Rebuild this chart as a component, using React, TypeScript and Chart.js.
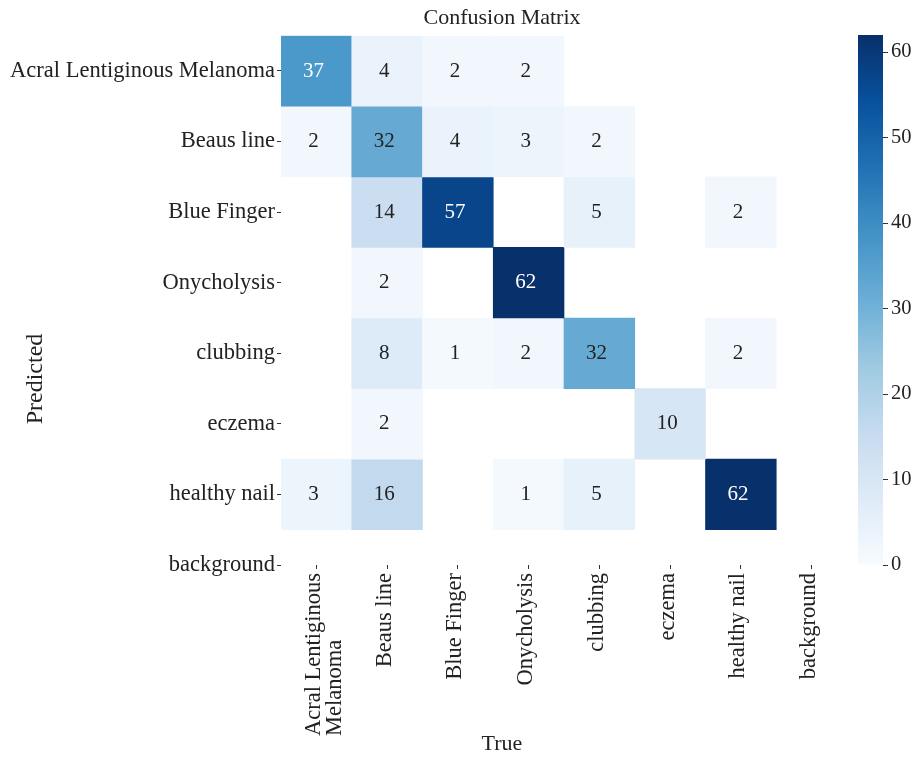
import React, { useEffect, useRef } from "react";
import { Chart, registerables } from "chart.js";

Chart.register(...registerables);

// Class names (rows = predicted, columns = true)
const ROW_LABELS = [
  "Acral Lentiginous Melanoma",
  "Beaus line",
  "Blue Finger",
  "Onycholysis",
  "clubbing",
  "eczema",
  "healthy nail",
  "background",
];
const COL_LABELS = [
  "Acral Lentiginous\nMelanoma",
  "Beaus line",
  "Blue Finger",
  "Onycholysis",
  "clubbing",
  "eczema",
  "healthy nail",
  "background",
];

// Counts per predicted row (0 = empty cell)
const ROW_ACRAL = [37, 4, 2, 2, 0, 0, 0, 0];
const ROW_BEAUS = [2, 32, 4, 3, 2, 0, 0, 0];
const ROW_BLUE = [0, 14, 57, 0, 5, 0, 2, 0];
const ROW_ONYCHO = [0, 2, 0, 62, 0, 0, 0, 0];
const ROW_CLUBBING = [0, 8, 1, 2, 32, 0, 2, 0];
const ROW_ECZEMA = [0, 2, 0, 0, 0, 10, 0, 0];
const ROW_HEALTHY = [3, 16, 0, 1, 5, 0, 62, 0];
const ROW_BACKGROUND = [0, 0, 0, 0, 0, 0, 0, 0];
const MATRIX = [ROW_ACRAL, ROW_BEAUS, ROW_BLUE, ROW_ONYCHO, ROW_CLUBBING, ROW_ECZEMA, ROW_HEALTHY, ROW_BACKGROUND];

// Colour scale range and colour-bar ticks
const COLOR_MIN = 0;
const COLOR_MAX = 62;
const CBAR_TICKS = [0, 10, 20, 30, 40, 50, 60];

const BLUES = ["#f7fbff", "#deebf7", "#c6dbef", "#9ecae1", "#6baed6", "#4292c6", "#2171b5", "#08519c", "#08306b"];

const FONT = "'Liberation Serif', 'Times New Roman', serif";
const TEXT_DARK = "#222222";
const LABEL_SIZE = 22.5;

function hexToRgb(h: string) {
  const n = parseInt(h.slice(1), 16);
  return [(n >> 16) & 255, (n >> 8) & 255, n & 255];
}

function blues(t: number) {
  const c = Math.max(0, Math.min(1, t)) * (BLUES.length - 1);
  const i = Math.min(Math.floor(c), BLUES.length - 2);
  const f = c - i;
  const a = hexToRgb(BLUES[i]);
  const b = hexToRgb(BLUES[i + 1]);
  const m = a.map((v, k) => Math.round(v + (b[k] - v) * f));
  return `rgb(${m[0]},${m[1]},${m[2]})`;
}

const norm = (v: number) => (v - COLOR_MIN) / (COLOR_MAX - COLOR_MIN);

// Value annotations on the cells
const cellLabels = {
  id: "cellLabels",
  afterDatasetsDraw(chart: any) {
    const ctx = chart.ctx;
    ctx.save();
    ctx.font = `21px ${FONT}`;
    ctx.textAlign = "center";
    ctx.textBaseline = "middle";
    chart.data.datasets.forEach((_: any, r: number) => {
      const meta = chart.getDatasetMeta(r);
      meta.data.forEach((el: any, c: number) => {
        const v = MATRIX[r][c];
        if (!v) return;
        const p = el.getCenterPoint();
        ctx.fillStyle = norm(v) > 0.55 ? "#ffffff" : TEXT_DARK;
        ctx.fillText(String(v), p.x - 3, p.y);
      });
    });
    ctx.restore();
  },
};

// Rotated column labels under the matrix, plus the captions
const axisText = {
  id: "axisText",
  afterDraw(chart: any) {
    const ctx = chart.ctx;
    const xs = chart.scales.x;
    const area = chart.chartArea;
    ctx.save();
    ctx.fillStyle = TEXT_DARK;
    ctx.font = `${LABEL_SIZE}px ${FONT}`;
    ctx.textBaseline = "middle";
    const top = area.bottom + 8;
    COL_LABELS.forEach((label, i) => {
      const px = xs.getPixelForTick(i);
      const lines = label.split("\n");
      const maxW = Math.max(...lines.map((l) => ctx.measureText(l).width));
      ctx.save();
      ctx.translate(px - 2.5, top);
      ctx.rotate(-Math.PI / 2);
      ctx.textAlign = "left";
      lines.forEach((l, k) => ctx.fillText(l, -maxW, k * 21));
      ctx.restore();
    });

    ctx.textAlign = "center";
    ctx.font = `22px ${FONT}`;
    ctx.fillText("Confusion Matrix", 502, 18);
    ctx.fillText("True", 502, 744);

    ctx.save();
    ctx.font = `24px ${FONT}`;
    ctx.translate(36, 379);
    ctx.rotate(-Math.PI / 2);
    ctx.fillText("Predicted", 0, 0);
    ctx.restore();
    ctx.restore();
  },
};

function MatrixChart() {
  const ref = useRef<HTMLCanvasElement>(null);
  useEffect(() => {
    if (!ref.current) return;
    const datasets = MATRIX.map((row, r) => ({
      label: ROW_LABELS[r],
      data: row.map((v) => (v > 0 ? [r, r + 1] : null)),
      backgroundColor: row.map((v) => blues(norm(v))),
      borderWidth: 0,
      barPercentage: 1,
      categoryPercentage: 1,
      grouped: false,
    }));
    const chart = new Chart(ref.current, {
      type: "bar",
      data: { labels: COL_LABELS, datasets: datasets as any },
      options: {
        responsive: false,
        animation: false,
        layout: { padding: { top: 35.7, right: 72, bottom: 0, left: 0 } },
        plugins: { legend: { display: false }, tooltip: { enabled: false }, title: { display: false } },
        scales: {
          x: {
            type: "category",
            offset: true,
            ticks: { display: false },
            grid: { offset: false, drawOnChartArea: false, drawTicks: true, tickLength: 4, color: "#333" },
            border: { display: false },
            afterFit: (s: any) => {
              s.height = 192;
            },
          },
          y: {
            type: "linear",
            min: 0,
            max: ROW_LABELS.length - 0.5,
            reverse: true,
            afterBuildTicks: (s: any) => {
              s.ticks = ROW_LABELS.map((_, i) => ({ value: i + 0.5 }));
            },
            ticks: {
              autoSkip: false,
              padding: 2,
              color: TEXT_DARK,
              font: { family: FONT, size: LABEL_SIZE },
              callback: (_v: any, i: number) => ROW_LABELS[i],
            },
            grid: { drawOnChartArea: false, drawTicks: true, tickLength: 4, color: "#333" },
            border: { display: false },
            afterFit: (s: any) => {
              s.width = 281;
            },
          },
        },
      },
      plugins: [cellLabels, axisText],
    });
    return () => chart.destroy();
  }, []);
  return <canvas ref={ref} width={919} height={757} style={{ position: "absolute", left: 0, top: 0 }} />;
}

function ColorBar() {
  const ref = useRef<HTMLCanvasElement>(null);
  useEffect(() => {
    if (!ref.current) return;
    const chart = new Chart(ref.current, {
      type: "bar",
      data: {
        labels: [""],
        datasets: [
          {
            data: [[COLOR_MIN, COLOR_MAX]] as any,
            borderWidth: 0,
            barPercentage: 1,
            categoryPercentage: 1,
            backgroundColor: (c: any) => {
              const ch = c.chart;
              if (!ch.chartArea) return BLUES[4];
              const ys = ch.scales.y;
              const g = ch.ctx.createLinearGradient(0, ys.getPixelForValue(COLOR_MIN), 0, ys.getPixelForValue(COLOR_MAX));
              BLUES.forEach((col, i) => g.addColorStop(i / (BLUES.length - 1), col));
              return g;
            },
          },
        ],
      },
      options: {
        responsive: false,
        animation: false,
        layout: { padding: { top: 35, right: 0, bottom: 192, left: 8 } },
        plugins: { legend: { display: false }, tooltip: { enabled: false } },
        scales: {
          x: { display: false },
          y: {
            position: "right",
            min: COLOR_MIN,
            max: COLOR_MAX,
            afterBuildTicks: (s: any) => {
              s.ticks = CBAR_TICKS.map((v) => ({ value: v }));
            },
            ticks: { padding: 3, color: TEXT_DARK, font: { family: FONT, size: 20.5 } },
            grid: { drawOnChartArea: false, drawTicks: true, tickLength: 5, color: "#333" },
            border: { display: false },
            afterFit: (s: any) => {
              s.width = 36;
            },
          },
        },
      },
    });
    return () => chart.destroy();
  }, []);
  return <canvas ref={ref} width={69} height={757} style={{ position: "absolute", left: 850, top: 0 }} />;
}

export default function App() {
  return (
    <div style={{ position: "fixed", left: 0, top: 0, width: 919, height: 757, background: "#ffffff", overflow: "hidden" }}>
      <MatrixChart />
      <ColorBar />
    </div>
  );
}
